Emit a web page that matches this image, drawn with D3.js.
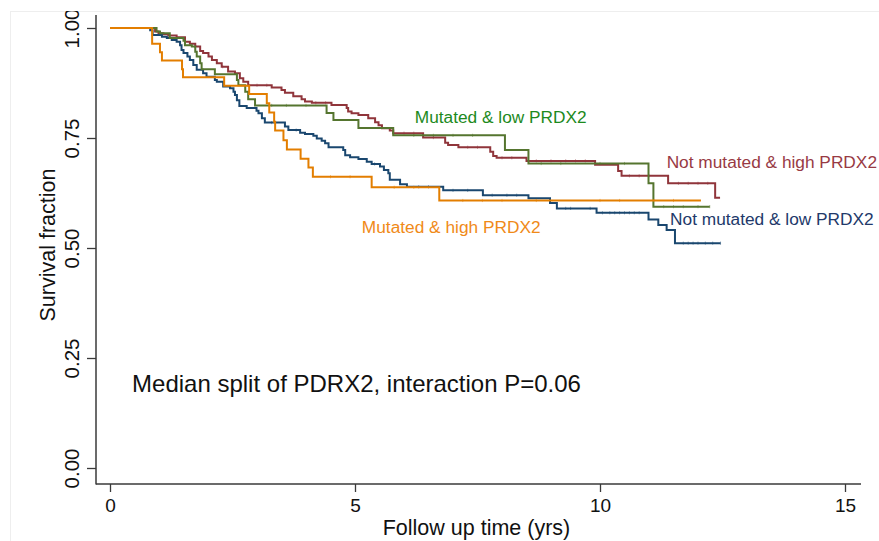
<!DOCTYPE html>
<html>
<head>
<meta charset="utf-8">
<script src="https://cdn.jsdelivr.net/npm/d3@7"></script>
<style>
  body { margin: 0; background: #fff; }
  svg { display: block; }
  text { font-family: "Liberation Sans", Arial, Helvetica, sans-serif; }
</style>
</head>
<body>
<svg id="chart" width="879" height="541"></svg>
<script>
// Kaplan–Meier survival by mutation status and PRDX2 expression.
// Each group: event times (years), survival after each event, censoring times, last follow-up.

const xTickValues = [0, 5, 10, 15];
const yTickValues = [0, 0.25, 0.5, 0.75, 1];
const yTickLabels = ["0.00", "0.25", "0.50", "0.75", "1.00"];

const groupNames = [
  "Not mutated & low PRDX2",
  "Not mutated & high PRDX2",
  "Mutated & low PRDX2",
  "Mutated & high PRDX2"
];

// Not mutated & low PRDX2
const nmLowTimes = [0.82, 0.87, 1.06, 1.16, 1.26, 1.36, 1.43, 1.46, 1.50, 1.58, 1.63, 1.70, 1.77, 1.90, 1.97,
  2.14, 2.18, 2.31, 2.45, 2.52, 2.55, 2.59, 2.64, 2.79, 2.99, 3.03, 3.10, 3.16, 3.57, 3.64, 3.88, 3.98,
  4.15, 4.22, 4.32, 4.39, 4.46, 4.76, 4.80, 4.90, 5.07, 5.24, 5.34, 5.51, 5.59, 5.68, 5.71, 5.92, 6.06,
  6.80, 7.61, 8.54, 8.98, 9.12, 9.93, 10.99, 11.19, 11.36, 11.53];
const nmLowSurv = [0.995, 0.984, 0.980, 0.977, 0.973, 0.969, 0.961, 0.950, 0.943, 0.935, 0.927, 0.916, 0.905, 0.897, 0.889,
  0.882, 0.878, 0.867, 0.863, 0.855, 0.848, 0.836, 0.823, 0.818, 0.812, 0.806, 0.795, 0.785, 0.776, 0.768, 0.762, 0.759,
  0.755, 0.749, 0.744, 0.738, 0.729, 0.723, 0.711, 0.706, 0.702, 0.696, 0.691, 0.685, 0.677, 0.670, 0.655, 0.645, 0.639,
  0.631, 0.620, 0.613, 0.602, 0.590, 0.580, 0.565, 0.552, 0.541, 0.511];
const nmLowCensor = [3.3, 3.8, 5.4, 6.3, 6.5, 7.0, 7.3, 7.8, 8.1, 8.3, 9.3, 9.4, 9.8,
  10.05, 10.2, 10.3, 10.4, 10.5, 10.6, 10.7, 10.8, 11.7, 11.8, 11.9, 12.0, 12.15, 12.3, 12.46];
const nmLowEnd = 12.46;

// Not mutated & high PRDX2
const nmHighTimes = [0.92, 0.99, 1.09, 1.19, 1.36, 1.53, 1.63, 1.74, 1.84, 1.90, 2.01, 2.08, 2.18, 2.28, 2.41,
  2.55, 2.65, 2.72, 2.82, 3.30, 3.50, 3.57, 3.74, 3.91, 3.98, 4.12, 4.52, 4.83, 4.86, 4.93, 5.07, 5.27,
  5.41, 5.48, 5.55, 5.71, 5.78, 6.39, 6.84, 6.90, 7.11, 7.76, 7.82, 7.89, 8.50, 9.90, 10.37, 10.44,
  11.39, 12.35];
const nmHighSurv = [0.992, 0.988, 0.986, 0.983, 0.979, 0.969, 0.964, 0.958, 0.948, 0.943, 0.935, 0.927, 0.920, 0.912, 0.901,
  0.897, 0.886, 0.878, 0.870, 0.865, 0.859, 0.853, 0.845, 0.838, 0.833, 0.830, 0.825, 0.818, 0.810, 0.806, 0.802, 0.795,
  0.786, 0.779, 0.772, 0.767, 0.761, 0.751, 0.739, 0.734, 0.729, 0.719, 0.709, 0.705, 0.698, 0.689, 0.675, 0.664,
  0.647, 0.614];
const nmHighCensor = [1.2, 2.3, 3.0, 3.2, 4.2, 4.4, 6.0, 6.2, 6.6, 7.3, 7.5, 8.0, 8.2, 8.7, 9.0, 9.3, 9.5, 9.7,
  10.6, 10.8, 11.0, 11.6, 11.8, 12.0, 12.2];
const nmHighEnd = 12.45;

// Mutated & low PRDX2
const mLowTimes = [0.95, 1.02, 1.22, 1.50, 1.53, 1.67, 1.74, 1.77, 1.84, 1.87, 2.14, 2.59, 2.62, 2.76, 2.82,
  2.96, 4.42, 4.56, 5.07, 5.78, 8.06, 8.54, 10.99, 11.09];
const mLowSurv = [0.992, 0.988, 0.977, 0.971, 0.961, 0.958, 0.946, 0.935, 0.920, 0.906, 0.895, 0.882, 0.870, 0.855, 0.838,
  0.824, 0.807, 0.791, 0.773, 0.756, 0.723, 0.692, 0.647, 0.594];
const mLowCensor = [3.3, 3.6, 4.0, 6.2, 6.6, 7.0, 7.4, 8.8, 9.2, 10.0, 10.5, 11.3, 11.5, 11.7, 12.0, 12.24];
const mLowEnd = 12.24;

// Mutated & high PRDX2
const mHighTimes = [0.86, 1.02, 1.06, 1.47, 1.49, 2.33, 2.84, 3.20, 3.25, 3.35, 3.37, 3.54, 3.61, 3.89, 4.05,
  4.14, 5.34, 6.72];
const mHighSurv = [0.964, 0.945, 0.926, 0.906, 0.888, 0.869, 0.850, 0.829, 0.808, 0.787, 0.767, 0.745, 0.724, 0.703, 0.683,
  0.662, 0.638, 0.608];
const mHighCensor = [4.5, 4.9, 5.8, 6.2, 7.2, 7.6, 8.0, 8.7, 10.0, 10.4, 11.1, 11.5];
const mHighEnd = 12.06;

// Label anchor points in data units (time, survival)
const labelTimes = [11.43, 11.36, 6.22, 5.14];
const labelSurv = [0.552, 0.681, 0.783, 0.533];

const groups = [
  { name: groupNames[0], times: nmLowTimes, surv: nmLowSurv, censor: nmLowCensor, end: nmLowEnd,
    line: "#1a476f", text: "#22396a", lt: labelTimes[0], ls: labelSurv[0] },
  { name: groupNames[1], times: nmHighTimes, surv: nmHighSurv, censor: nmHighCensor, end: nmHighEnd,
    line: "#90353b", text: "#983a44", lt: labelTimes[1], ls: labelSurv[1] },
  { name: groupNames[2], times: mLowTimes, surv: mLowSurv, censor: mLowCensor, end: mLowEnd,
    line: "#55752f", text: "#1d8a1d", lt: labelTimes[2], ls: labelSurv[2] },
  { name: groupNames[3], times: mHighTimes, surv: mHighSurv, censor: mHighCensor, end: mHighEnd,
    line: "#e37e00", text: "#f08a18", lt: labelTimes[3], ls: labelSurv[3] }
];

const svg = d3.select("#chart");

// graph region outline and clipping
svg.append("defs").append("clipPath").attr("id", "graphClip")
  .append("rect").attr("x", 10).attr("y", 11).attr("width", 869).attr("height", 530);
svg.append("rect")
  .attr("x", 10.5).attr("y", 11.5).attr("width", 900).attr("height", 600)
  .attr("fill", "none").attr("stroke", "#eeeeee").attr("stroke-width", 1);

const root = svg.append("g").attr("clip-path", "url(#graphClip)");

const x = d3.scaleLinear().domain([0, 15]).range([110, 845]);
const y = d3.scaleLinear().domain([0, 1]).range([468, 28]);

const axisColor = "#3a3a3a";
const plotLeft = 96, plotRight = 861, plotTop = 15, plotBottom = 484;

// y axis
const yAxis = root.append("g").attr("transform", `translate(${plotLeft},0)`)
  .call(d3.axisLeft(y).tickValues(yTickValues).tickSize(9)
    .tickFormat((d, i) => yTickLabels[i]));
yAxis.select(".domain").remove();
yAxis.selectAll(".tick line").attr("stroke", axisColor).attr("stroke-width", 1.3);
yAxis.selectAll(".tick text")
  .attr("transform", "rotate(-90)")
  .attr("x", 0).attr("y", -17).attr("dy", 0)
  .attr("text-anchor", "middle")
  .attr("fill", "#111")
  .style("font-size", "20.5px");

// x axis
const xAxis = root.append("g").attr("transform", `translate(0,${plotBottom})`)
  .call(d3.axisBottom(x).tickValues(xTickValues).tickSize(8).tickFormat(d3.format("d")));
xAxis.select(".domain").remove();
xAxis.selectAll(".tick line").attr("stroke", axisColor).attr("stroke-width", 1.3);
xAxis.selectAll(".tick text")
  .attr("y", 27.5).attr("dy", 0)
  .attr("fill", "#111")
  .style("font-size", "19px");

// axis lines
root.append("line")
  .attr("x1", plotLeft).attr("x2", plotLeft).attr("y1", plotTop).attr("y2", plotBottom + 0.5)
  .attr("stroke", axisColor).attr("stroke-width", 1.5);
root.append("line")
  .attr("x1", plotLeft).attr("x2", plotRight).attr("y1", plotBottom).attr("y2", plotBottom)
  .attr("stroke", axisColor).attr("stroke-width", 1.5);

// axis titles
root.append("text")
  .attr("transform", `translate(55,${y(0.5) - 3}) rotate(-90)`)
  .attr("text-anchor", "middle")
  .attr("fill", "#111")
  .style("font-size", "21.5px")
  .text("Survival fraction");
root.append("text")
  .attr("x", (plotLeft + plotRight) / 2 - 2).attr("y", 535)
  .attr("text-anchor", "middle")
  .attr("fill", "#111")
  .style("font-size", "21.5px")
  .text("Follow up time (yrs)");

// survival curves
const stepLine = d3.line()
  .x(d => x(d[0])).y(d => y(d[1]))
  .curve(d3.curveStepAfter);

function survAt(g, t) {
  let s = 1;
  for (let i = 0; i < g.times.length; i++) if (g.times[i] <= t) s = g.surv[i];
  return s;
}

// draw in back-to-front order so the orange and green curves sit on top
const drawOrder = [1, 0, 2, 3];
drawOrder.forEach(k => {
  const g = groups[k];
  const pts = [[0, 1]].concat(g.times.map((t, i) => [t, g.surv[i]]));
  pts.push([g.end, g.surv[g.surv.length - 1]]);
  const cg = root.append("g");
  cg.append("path")
    .attr("d", stepLine(pts))
    .attr("fill", "none")
    .attr("stroke", g.line)
    .attr("stroke-width", 2)
    .attr("stroke-linejoin", "miter");
  // small censoring marks
  cg.selectAll("line.censor")
    .data(g.censor)
    .join("line")
    .attr("class", "censor")
    .attr("x1", d => x(d)).attr("x2", d => x(d))
    .attr("y1", d => y(survAt(g, d)) - 1.6)
    .attr("y2", d => y(survAt(g, d)) + 1.6)
    .attr("stroke", g.line)
    .attr("stroke-opacity", 0.6)
    .attr("stroke-width", 0.8);
});

// curve labels
groups.forEach(g => {
  root.append("text")
    .attr("x", x(g.lt)).attr("y", y(g.ls))
    .attr("fill", g.text)
    .style("font-size", "17.3px")
    .text(g.name);
});

// annotation
const noteTime = 0.45, noteSurv = 0.172;
root.append("text")
  .attr("x", x(noteTime)).attr("y", y(noteSurv))
  .attr("fill", "#111")
  .style("font-size", "24px")
  .text("Median split of PDRX2, interaction P=0.06");
</script>
</body>
</html>
